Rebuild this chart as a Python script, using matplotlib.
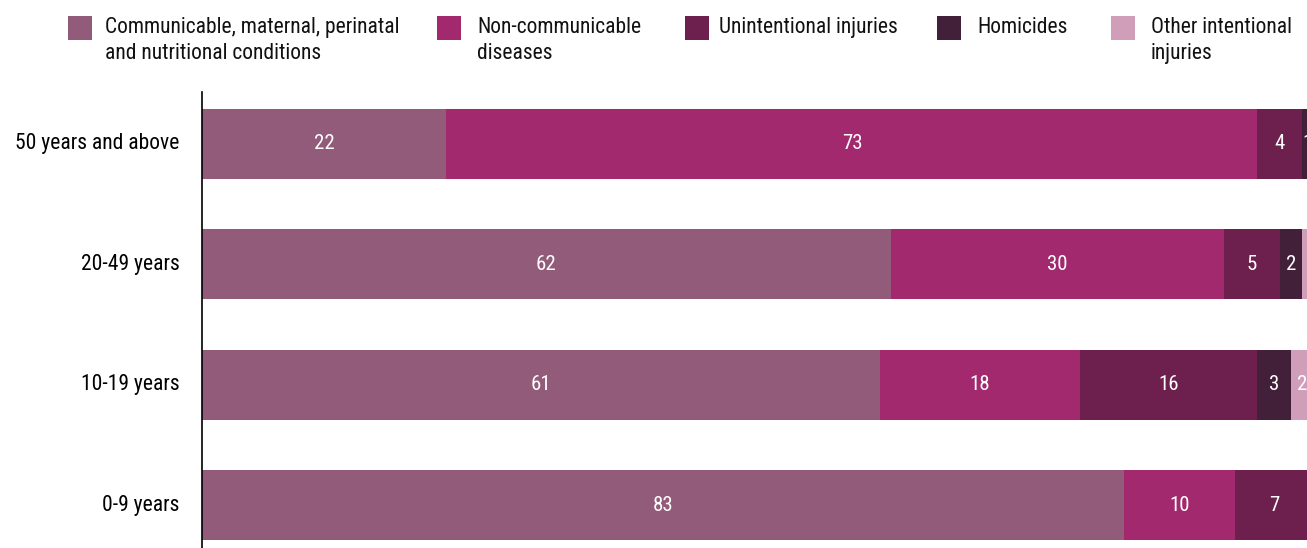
import matplotlib
matplotlib.use('Agg')
import matplotlib.pyplot as plt
from matplotlib.patches import Rectangle

plt.rcParams['font.family'] = ['Roboto Condensed', 'DejaVu Sans']

age_groups = ['0-9 years', '10-19 years', '20-49 years', '50 years and above']
causes = ['Communicable, maternal, perinatal\nand nutritional conditions',
          'Non-communicable\ndiseases',
          'Unintentional injuries',
          'Homicides',
          'Other intentional\ninjuries']
communicable = [83, 61, 62, 22]
noncommunicable = [10, 18, 30, 73]
unintentional = [7, 16, 5, 4]
homicides = [0, 3, 2, 1]
other_intentional = [0, 2, 2, 1]
colors = ['#935b7a', '#a2296e', '#6d1f4e', '#43203a', '#d09eb9']

series = [communicable, noncommunicable, unintentional, homicides, other_intentional]

W, H = 1307, 548
fig = plt.figure(figsize=(W / 100, H / 100), dpi=100)
# plot area runs a little past the right and bottom edges
ax = fig.add_axes([202 / W, -9 / H, 1111 / W, 465 / H])

ypos = range(len(age_groups))
left = [0] * len(age_groups)
for vals, col in zip(series, colors):
    bars = ax.barh(ypos, vals, left=left, height=0.58, color=col, linewidth=0)
    for b, v in zip(bars, vals):
        if v > 0:
            ax.text(b.get_x() + b.get_width() / 2, b.get_y() + b.get_height() / 2,
                    str(v), ha='center', va='center', color='white', fontsize=15)
    left = [l + v for l, v in zip(left, vals)]

ax.set_xlim(0, 100)
ax.set_ylim(-0.432, 3.432)
ax.set_yticks(list(ypos))
ax.set_yticklabels(age_groups, fontsize=15.5, va='center')
ax.tick_params(axis='y', length=0, pad=16)
ax.set_xticks([])
for s in ['top', 'right', 'bottom']:
    ax.spines[s].set_visible(False)
ax.spines['left'].set_linewidth(1.2)

# legend across the top
sq_x = [68, 437, 685, 937, 1111]
txt_x = [105, 477, 719, 977, 1151]
for sx, tx, lab, col in zip(sq_x, txt_x, causes, colors):
    fig.add_artist(Rectangle((sx / W, 1 - 40 / H), 24 / W, 24 / H,
                             transform=fig.transFigure, color=col, linewidth=0))
    fig.text(tx / W, 1 - 17 / H, lab, ha='left', va='top', fontsize=15.5,
             linespacing=1.3, color='#111111')

fig.savefig('out.png', dpi=100)
